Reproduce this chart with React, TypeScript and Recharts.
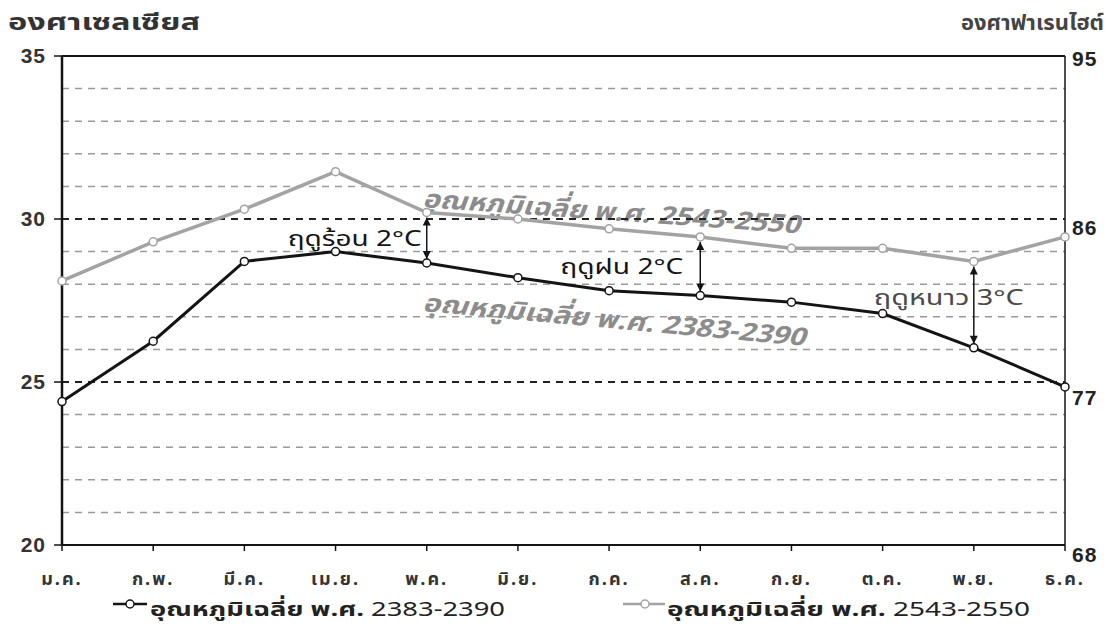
import { LineChart, Line, XAxis, YAxis, ReferenceLine } from "recharts";

const months = ["ม.ค.", "ก.พ.", "มี.ค.", "เม.ย.", "พ.ค.", "มิ.ย.", "ก.ค.", "ส.ค.", "ก.ย.", "ต.ค.", "พ.ย.", "ธ.ค."];
// average monthly temperature, °C
const temp2383 = [24.4, 26.25, 28.7, 29.0, 28.65, 28.2, 27.8, 27.65, 27.45, 27.1, 26.05, 24.85];
const temp2543 = [28.1, 29.3, 30.3, 31.45, 30.2, 30.0, 29.7, 29.45, 29.1, 29.1, 28.7, 29.45];

const celsiusTicks = [20, 25, 30, 35];
const fahrenheitTicks = [68, 77, 86, 95];
const gridSteps = [21, 22, 23, 24, 25, 26, 27, 28, 29, 30, 31, 32, 33, 34];

const seasonNames = ["ฤดูร้อน", "ฤดูฝน", "ฤดูหนาว"];
const seasonMonths = ["พ.ค.", "ส.ค.", "พ.ย."];
const seasonRise = [2, 2, 3];

const label2383 = "อุณหภูมิเฉลี่ย พ.ศ. 2383-2390";
const label2543 = "อุณหภูมิเฉลี่ย พ.ศ. 2543-2550";

const data = months.map((m, i) => ({ month: m, old: temp2383[i], recent: temp2543[i] }));

const THAI = "'Noto Sans Thai', 'Noto Sans', 'DejaVu Sans', Tahoma, sans-serif";
const NUM = "'Liberation Sans', Arial, sans-serif";
const DARK = "#141414";
const GREY = "#a3a3a3";

// where each season caption sits relative to its arrow
const captionShift = [
  { dx: -5, dy: 8, anchor: "end", len: 134 },
  { dx: -17, dy: 7, anchor: "end", len: 123 },
  { dx: -100, dy: 0, anchor: "start", len: 150 },
];

// the °F numbers are hand-placed a little below their gridline
const fahrenheitDrop = [17, 23, 16, 10];

function seasonArrow(i: number) {
  return (props: any) => {
    const { x1, y1, y2 } = props;
    const top = Math.min(y1, y2) + 5;
    const bottom = Math.max(y1, y2) - 4;
    const x = x1;
    const c = captionShift[i];
    const mid = (top + bottom) / 2;
    return (
      <g>
        <line x1={x} y1={top} x2={x} y2={bottom} stroke={DARK} strokeWidth={1.5} />
        <polygon points={`${x},${top} ${x - 4},${top + 8} ${x + 4},${top + 8}`} fill={DARK} />
        <polygon points={`${x},${bottom} ${x - 4},${bottom - 8} ${x + 4},${bottom - 8}`} fill={DARK} />
        <text
          x={x + c.dx}
          y={mid + c.dy}
          textAnchor={c.anchor}
          textLength={c.len}
          lengthAdjust="spacingAndGlyphs"
          fontFamily={THAI}
          fontSize={21}
          fill={i === 2 ? "#4a4a4a" : DARK}
        >
          {`${seasonNames[i]} ${seasonRise[i]}°C`}
        </text>
      </g>
    );
  };
}

function MonthTick(props: any) {
  const { x, y, payload } = props;
  return (
    <text
      x={x}
      y={y + 32}
      textAnchor="middle"
      fontFamily={THAI}
      fontWeight="bold"
      fontSize={18}
      letterSpacing={2}
      fill="#333"
    >
      {payload.value}
    </text>
  );
}

function CelsiusTick(props: any) {
  const { x, y, payload } = props;
  return (
    <text
      x={x - 4}
      y={y + 7}
      textAnchor="end"
      fontFamily={NUM}
      fontSize={21}
      fontWeight="bold"
      letterSpacing={1}
      fill="#333"
    >
      {payload.value}
    </text>
  );
}

function fahrenheitLabel(i: number) {
  return (props: any) => {
    const { viewBox } = props;
    return (
      <text
        x={viewBox.x + viewBox.width + 7}
        y={viewBox.y + fahrenheitDrop[i]}
        fontFamily={NUM}
        fontSize={21}
        fontWeight="bold"
        letterSpacing={1}
        fill="#222"
      >
        {fahrenheitTicks[i]}
      </text>
    );
  };
}

const dot = (color: string) => ({ r: 4, fill: "#fff", stroke: color, strokeWidth: 1.5 });

export default function App() {
  return (
    <div style={{ position: "absolute", left: 0, top: 0, width: 1111, height: 628, background: "#fff" }}>
      <LineChart
        width={1111}
        height={628}
        data={data}
        margin={{ top: 56, right: 6, bottom: 43, left: 12 }}
      >
        {gridSteps.map((v) => (
          <ReferenceLine
            key={v}
            y={v}
            yAxisId="c"
            stroke={v % 5 === 0 ? "#222" : "#9a9a9a"}
            strokeWidth={v % 5 === 0 ? 2 : 1.5}
            strokeDasharray="7 6"
          />
        ))}
        <ReferenceLine y={35} yAxisId="c" stroke={DARK} strokeWidth={2} />
        {celsiusTicks.map((c, i) => (
          <ReferenceLine
            key={`f${c}`}
            y={c}
            yAxisId="c"
            stroke="none"
            label={fahrenheitLabel(i)}
          />
        ))}
        <XAxis
          dataKey="month"
          height={40}
          tick={<MonthTick />}
          tickSize={6}
          tickLine={{ stroke: DARK, strokeWidth: 1.5 }}
          axisLine={{ stroke: DARK, strokeWidth: 2 }}
          interval={0}
        />
        <YAxis
          yAxisId="c"
          domain={[20, 35]}
          ticks={celsiusTicks}
          width={50}
          tickSize={8}
          tickMargin={4}
          tickLine={{ stroke: DARK, strokeWidth: 1.5 }}
          axisLine={{ stroke: DARK, strokeWidth: 2.5 }}
          tick={<CelsiusTick />}
        />
        <YAxis
          yAxisId="f"
          orientation="right"
          domain={[68, 95]}
          width={40}
          tick={false}
          tickLine={false}
          axisLine={{ stroke: DARK, strokeWidth: 1.5 }}
        />
        <Line
          yAxisId="c"
          dataKey="recent"
          stroke={GREY}
          strokeWidth={3.5}
          dot={dot(GREY)}
          isAnimationActive={false}
        />
        <Line
          yAxisId="c"
          dataKey="old"
          stroke={DARK}
          strokeWidth={3}
          dot={dot(DARK)}
          isAnimationActive={false}
        />
        {seasonMonths.map((m, i) => {
          const k = months.indexOf(m);
          return (
            <ReferenceLine
              key={m}
              yAxisId="c"
              segment={[
                { x: m, y: temp2383[k] },
                { x: m, y: temp2543[k] },
              ]}
              shape={seasonArrow(i)}
            />
          );
        })}

        {/* captions laid along the two curves */}
        <text
          x={422}
          y={207}
          transform="rotate(4 422 207)"
          textLength={378}
          lengthAdjust="spacingAndGlyphs"
          fontFamily={THAI}
          fontStyle="italic"
          fontWeight="bold"
          fontSize={25}
          fill="#8c8c8c"
        >
          {label2543}
        </text>
        <text
          x={422}
          y={311}
          transform="rotate(5.2 422 311)"
          textLength={384}
          lengthAdjust="spacingAndGlyphs"
          fontFamily={THAI}
          fontStyle="italic"
          fontWeight="bold"
          fontSize={25}
          fill="#8c8c8c"
        >
          {label2383}
        </text>

        {/* axis titles */}
        <text x={8} y={30} textLength={192} lengthAdjust="spacingAndGlyphs" fontFamily={THAI} fontWeight="bold" fontSize={23} fill="#333">
          องศาเซลเซียส
        </text>
        <text x={1104} y={30} textAnchor="end" fontFamily={THAI} fontWeight="bold" fontSize={22} fill="#444">
          องศาฟาเรนไฮต์
        </text>

        {/* legend */}
        <g>
          <line x1={113} y1={604} x2={147} y2={604} stroke={DARK} strokeWidth={2.5} />
          <circle cx={130} cy={604} r={4} fill="#fff" stroke={DARK} strokeWidth={1.5} />
          <text x={150} y={616} textLength={355} lengthAdjust="spacingAndGlyphs" fontFamily={THAI} fontSize={20} fill="#222">
            <tspan fontWeight="bold">อุณหภูมิเฉลี่ย พ.ศ.</tspan>
            <tspan> 2383-2390</tspan>
          </text>
          <line x1={623} y1={604} x2={665} y2={604} stroke={GREY} strokeWidth={2.5} />
          <circle cx={645} cy={604} r={4} fill="#fff" stroke={GREY} strokeWidth={1.5} />
          <text x={667} y={616} textLength={363} lengthAdjust="spacingAndGlyphs" fontFamily={THAI} fontSize={20} fill="#222">
            <tspan fontWeight="bold">อุณหภูมิเฉลี่ย พ.ศ.</tspan>
            <tspan> 2543-2550</tspan>
          </text>
        </g>
      </LineChart>
    </div>
  );
}
